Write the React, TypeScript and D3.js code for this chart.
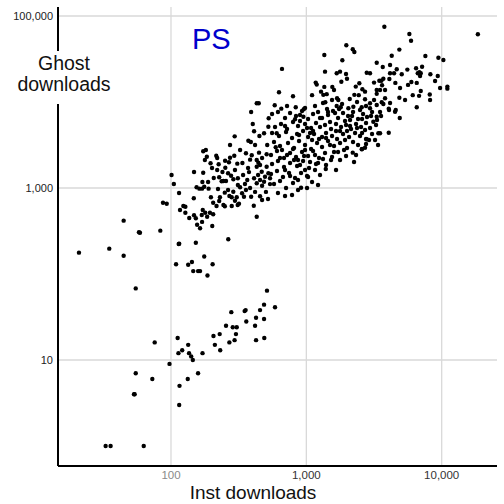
import { useEffect, useRef } from 'react';
import * as d3 from 'd3';

const width = 504;
const height = 504;

const xTicks = [100, 1000, 10000];
const yTicks = [10, 1000, 100000];
const titleText = 'PS';

// [inst downloads, ghost downloads]
const sparseTail: [number, number][] = [
    [20.9, 177], [35, 197], [44.7, 163], [44.7, 417], [58, 306], [59, 302], [54.9, 68], [83.4, 319],
    [87.3, 674], [93, 656], [101, 1416], [105, 1113], [109, 130], [114, 223], [75.8, 16], [112, 18],
    [113.5, 12], [97.5, 9], [54.9, 7], [72.8, 6], [53.3, 4], [53.9, 4], [115.6, 5], [115, 3],
    [32.9, 1], [35.8, 1], [62.9, 1]
];

const lowCluster: [number, number][] = [
    [146, 108], [158.5, 108], [164, 108], [186, 96], [512, 64], [587, 41], [487, 44], [455, 38],
    [279, 36], [350, 37], [356, 38], [360, 28], [425, 31], [487, 30], [418, 25], [255, 25],
    [286, 24], [306, 24], [302, 20], [229, 20], [206, 19], [211, 15], [270, 16], [295, 17],
    [425, 17], [489, 18], [134, 15], [121, 13], [136, 12], [141, 11], [145, 10], [171, 12],
    [231, 13], [158.5, 7], [133, 6]
];

const midCloud: [number, number][] = [
    [116.6, 555], [123.4, 617], [127.7, 605], [127.7, 516], [136.4, 448], [148, 481], [152.6, 445],
    [156, 374], [164, 340], [171.7, 555], [168.8, 485], [179, 516], [185, 463], [194, 516], [205, 494],
    [169.7, 403], [201.8, 361], [205, 674], [217, 617], [227, 706], [244, 634], [250, 612], [281, 617],
    [311, 634], [318, 657], [297, 711], [409, 622], [430, 463], [115, 225], [152.6, 231], [265, 253],
    [176, 160], [134, 128], [142.8, 138], [203, 130], [114.7, 875],
    [391, 7650], [402, 5546], [411, 4561], [450, 4021], [487, 4324], [524, 5158], [527, 6470],
    [295.5, 3987], [373, 3547], [389, 3427], [173, 2671], [181, 2767], [184, 2311], [216, 2375],
    [219.5, 2233], [196, 1938], [225, 1886], [251, 2077], [273, 2251], [268, 1991], [293.5, 2375],
    [309, 1918], [337, 1953], [358, 2534], [395, 2401], [447, 2574], [509, 2466], [384, 2134],
    [430, 2117], [442, 1969], [219.5, 1619], [252, 1721], [264, 1483], [227, 1332], [244, 1206],
    [255, 1206], [278, 1390], [289, 1262], [312, 1297], [324, 1020], [148, 1535], [173, 1506],
    [147.4, 759], [170.6, 1174], [176, 1035], [169.7, 982], [189.6, 982], [154.6, 1020], [162, 982],
    [197.3, 780], [222.5, 974], [236.8, 1196], [230, 780], [249.7, 882], [270, 807], [288.6, 905],
    [281, 780], [306, 780], [335, 868], [358, 948], [352, 1113], [366, 1239], [411, 1297], [430, 1135],
    [455, 1239], [495, 1352], [524, 1483], [430, 1768], [455, 1851], [509, 1768], [468, 1546],
    [384, 1000], [418, 900], [471, 1060], [503, 900], [539, 1110], [391, 790], [455, 800], [521, 745],
    [377, 1530], [440, 1416], [487, 1180], [539, 1300], [346, 790], [471, 725], [430, 9660], [445, 9660],
    [178, 2117], [201, 1709], [240, 1535], [297, 1619], [341, 1416], [312, 1084], [264, 948], [207, 1307],
    [188, 1175], [371, 1709], [471, 2234], [514, 3160], [418, 3160], [324, 2767], [273, 3160]
];

const mainCloud: [number, number][] = [
    [558, 7250], [617, 7650], [696, 6510], [758, 7450], [839, 6870], [929, 7860], [1030, 6340],
    [1121, 7250], [1220, 7650], [1306, 6510], [1446, 7060], [1575, 7860], [1715, 6510], [1867, 7450],
    [2033, 6870], [2213, 7650], [2410, 6340], [2624, 7250], [2808, 6690], [3058, 7650], [3329, 6180],
    [898, 6010], [1931, 6010], [1496, 5850],
    [587, 5120], [650, 5550], [720, 4850], [797, 5850], [868, 5260], [978, 5550], [1084, 4980],
    [1179, 5700], [1262, 5120], [1374, 5400], [1522, 4850], [1657, 5550], [1805, 5120], [1965, 5400],
    [2139, 4850], [2329, 5550], [2536, 5120], [2761, 5700], [2955, 4980], [3273, 5400], [1121, 4600],
    [1774, 4600],
    [558, 4360], [628, 4020], [708, 4480], [784, 3810], [854, 4245], [946, 4600], [1030, 3915],
    [1140, 4245], [1241, 3710], [1398, 4360], [1548, 4020], [1686, 3710], [1867, 4245], [2068, 3915],
    [2290, 4360], [2493, 4020], [2761, 3710], [3058, 4245],
    [577, 3425], [639, 3077], [732, 3335], [811, 2917], [883, 3520], [978, 3160], [1084, 2840],
    [1200, 3335], [1306, 2996], [1446, 3520], [1602, 3077], [1774, 3335], [1998, 2917], [2213, 3425],
    [2580, 2840], [2761, 3245],
    [548, 2420], [607, 2694], [684, 2234], [758, 2554], [839, 2294], [929, 2623], [1030, 2357],
    [1121, 2694], [1241, 2234], [1374, 2554], [1548, 2294], [1715, 2623], [1965, 2357], [2251, 2007],
    [558, 1903], [617, 2062], [684, 1755], [758, 1954], [854, 1803], [946, 2062], [1047, 1709],
    [1179, 1903], [1328, 2175], [1220, 1954], [1392, 1664],
    [548, 1455], [607, 1577], [672, 1343], [745, 1494], [825, 1307], [914, 1494], [1012, 1379],
    [577, 1114], [639, 1207], [708, 1000], [797, 1144], [868, 948], [914, 1008], [1012, 1000],
    [1030, 1343], [696, 807], [617, 875], [784, 829],
    [2794, 3680], [2566, 2818], [2714, 2940], [2202, 2575], [3404, 4325], [3126, 5900], [3312, 6740],
    [594, 2972], [604, 4325], [696, 5260], [825, 6290], [951, 6740],
    [978, 8510], [1159, 8980], [1422, 8290], [1629, 7450], [2103, 6180], [2493, 8070], [1065, 4360],
    [1306, 3915], [1931, 3615], [2410, 3160], [1496, 3160], [1159, 2420], [1774, 2117], [978, 2767],
    [1262, 6510], [2714, 4725], [3218, 3615], [1998, 4600], [2369, 4980], [883, 4130],
    [661, 2767], [720, 2420], [797, 2840], [868, 2117], [962, 2357], [1065, 2007], [1159, 1619],
    [1262, 1416], [1398, 1851], [1522, 2117], [1657, 1619], [978, 1619], [868, 1239], [758, 1379],
    [696, 1619], [1102, 1175], [1220, 1084], [898, 1851], [811, 2117], [639, 2234],
    [1328, 9740], [1548, 10550], [1836, 9480], [2369, 10000], [2761, 8980], [3164, 10550],
    [1446, 7650], [1744, 8290], [2176, 6870], [2580, 6340], [3006, 6870], [3504, 7650], [1398, 3810],
    [1657, 4600], [2103, 5260], [2580, 4360], [2906, 3615], [3387, 3160], [1899, 2767], [2329, 2420],
    [1602, 2623], [1102, 3615], [1012, 4980], [898, 7060], [720, 8980]
];

const topCloud: [number, number][] = [
    [1974, 45600], [2202, 41070], [2263, 38200], [1358, 35200], [1845, 30550], [3311, 28600],
    [661, 24240], [1374, 22540], [1676, 21570], [1774, 22540], [1964, 21160], [1997, 18650],
    [2793, 21900], [2955, 21570], [1814, 17190], [1173, 16800], [1193, 15930], [2463, 16540],
    [3164, 16800], [3462, 17660], [1358, 14970], [1556, 14970], [1601, 13800], [1284, 13180],
    [1335, 12100], [1414, 12330], [2318, 15090], [2593, 14060], [2714, 13180], [3311, 13800],
    [3311, 12430], [628, 12980], [797, 11680], [1102, 12000], [1686, 11050], [1723, 10550],
    [2093, 10840], [2263, 12100], [2439, 12000], [2714, 10750], [2955, 9660], [1381, 9925],
    [584, 9157], [653, 8360], [835, 8683], [957, 8223], [1676, 8987], [1795, 8683], [2044, 8450],
    [2225, 8816], [2565, 8683], [2955, 8450], [3311, 9230],
    [3770, 75070], [5769, 61730], [5938, 51620], [18500, 61240], [4867, 40630], [4274, 34540],
    [7575, 34270], [9454, 32740], [10290, 30800], [3669, 25500], [7163, 25690], [4654, 24050],
    [5576, 23790], [6466, 24710], [6839, 22200], [6656, 21570], [7004, 21570], [4154, 21570],
    [4446, 21570], [5068, 20990], [8247, 20990], [9354, 20060], [6921, 20060], [3707, 18650],
    [3583, 17660], [4105, 18490], [8934, 17530], [5969, 17060], [4546, 16670], [6541, 16670],
    [3626, 15670], [5641, 15800], [9728, 14560], [11014, 15090], [11014, 14300], [3504, 13800],
    [7004, 13440], [6112, 12000], [6804, 11780], [8163, 12200], [4867, 11210], [3815, 11050],
    [3606, 9925], [4154, 9740], [3707, 9480], [6541, 8683], [4063, 8360], [4577, 8070],
    [4084, 8070], [4523, 7710], [3564, 6870], [4900, 6520], [3504, 4324], [4063, 4390],
    [3815, 13800], [4925, 14560], [5362, 10550], [8205, 10550], [4154, 26900]
];

const points = [...sparseTail, ...lowCluster, ...midCloud, ...mainCloud, ...topCloud];

function App() {
    const ref = useRef<SVGSVGElement>(null);

    useEffect(() => {
        const svg = d3.select(ref.current);
        svg.selectAll('*').remove();

        const [left, right, top, bottom] = [58, 497, 7, 466];
        const font = 'Liberation Sans, Arial, sans-serif';

        const x = d3.scaleLog().domain([14.63, 25620]).range([left, right]);
        const y = d3.scaleLog().domain([0.585, 127200]).range([bottom, top]);
        const fmt = d3.format(',');

        // grid
        svg.append('g')
            .selectAll('line')
            .data(xTicks)
            .join('line')
            .attr('x1', (d) => x(d))
            .attr('x2', (d) => x(d))
            .attr('y1', top)
            .attr('y2', bottom)
            .attr('stroke', '#d9d9d9')
            .attr('stroke-width', 1.3);
        svg.append('g')
            .selectAll('line')
            .data(yTicks)
            .join('line')
            .attr('x1', left)
            .attr('x2', right)
            .attr('y1', (d) => y(d))
            .attr('y2', (d) => y(d))
            .attr('stroke', '#d9d9d9')
            .attr('stroke-width', 1.3);

        // points
        svg.append('g')
            .selectAll('circle')
            .data(points)
            .join('circle')
            .attr('cx', (d) => x(d[0]))
            .attr('cy', (d) => y(d[1]))
            .attr('r', 2.2)
            .attr('fill', '#000');

        // axis lines (y axis broken by its title)
        svg.append('line')
            .attr('x1', left).attr('x2', right)
            .attr('y1', bottom).attr('y2', bottom)
            .attr('stroke', '#000').attr('stroke-width', 2);
        svg.append('line')
            .attr('x1', left).attr('x2', left)
            .attr('y1', top).attr('y2', 51)
            .attr('stroke', '#000').attr('stroke-width', 2);
        svg.append('line')
            .attr('x1', left).attr('x2', left)
            .attr('y1', 104).attr('y2', bottom)
            .attr('stroke', '#000').attr('stroke-width', 2);

        // tick labels
        svg.append('g')
            .selectAll('text')
            .data(xTicks)
            .join('text')
            .attr('x', (d) => x(d))
            .attr('y', 479)
            .attr('text-anchor', 'middle')
            .attr('font-family', font)
            .attr('font-size', 11.5)
            .attr('fill', (d, i) => (i === 0 ? '#8a8a8a' : '#333'))
            .text((d) => fmt(d));
        svg.append('g')
            .selectAll('text')
            .data(yTicks)
            .join('text')
            .attr('x', 53)
            .attr('y', (d) => y(d) + 4)
            .attr('text-anchor', 'end')
            .attr('font-family', font)
            .attr('font-size', 11)
            .attr('fill', '#222')
            .text((d) => fmt(d));

        // axis titles
        svg.append('text')
            .attr('x', 253)
            .attr('y', 499)
            .attr('text-anchor', 'middle')
            .attr('font-family', font)
            .attr('font-size', 19)
            .attr('fill', '#111')
            .text('Inst downloads');
        const yt = svg.append('text')
            .attr('text-anchor', 'middle')
            .attr('font-family', font)
            .attr('font-size', 19.5)
            .attr('fill', '#111');
        yt.append('tspan').attr('x', 64).attr('y', 70).text('Ghost');
        yt.append('tspan').attr('x', 64).attr('y', 91).text('downloads');

        // title
        svg.append('text')
            .attr('x', 192)
            .attr('y', 49)
            .attr('font-family', font)
            .attr('font-size', 29)
            .attr('fill', '#0000cc')
            .text(titleText);
    }, []);

    return (
        <div style={{ position: 'absolute', left: 0, top: 0, background: '#fff' }}>
            <svg ref={ref} width={width} height={height} />
        </div>
    );
}

export default App;
